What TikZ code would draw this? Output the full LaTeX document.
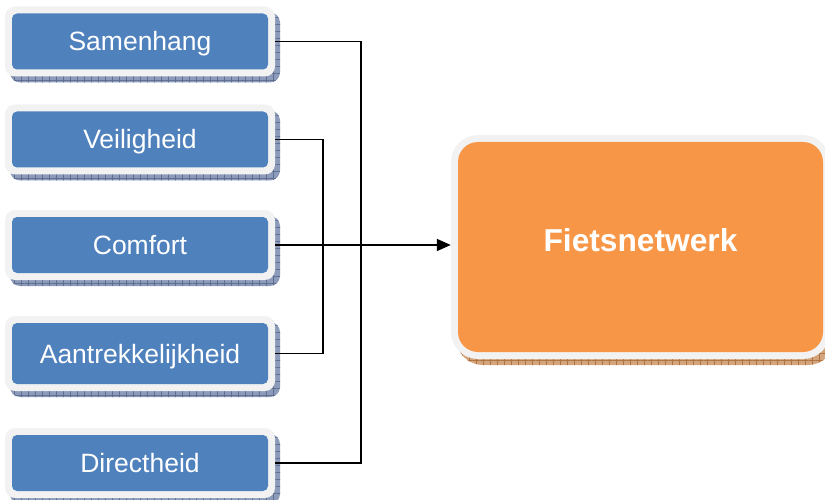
\documentclass[tikz,border=0pt]{standalone}
\usepackage{fontspec}
\setmainfont{Liberation Sans}
\usetikzlibrary{arrows.meta,shadows,patterns.meta}

\definecolor{boxblue}{HTML}{4F81BD}
\definecolor{boxorange}{HTML}{F79646}
\definecolor{framegray}{HTML}{F2F2F2}
\definecolor{shblue}{RGB}{140,155,185}
\definecolor{shbluegrid}{RGB}{95,110,145}
\definecolor{shorange}{RGB}{212,165,125}
\definecolor{shorangegrid}{RGB}{175,115,65}

\tikzset{
  % textured drop shadow below/right of each framed box
  gridshadow/.style 2 args={
    general shadow={shadow xshift=5pt, shadow yshift=-6pt, fill=#1,
      postaction={pattern={Lines[angle=0,distance=7pt,line width=.5pt]}, pattern color=#2},
      postaction={pattern={Lines[angle=90,distance=7pt,line width=.5pt]}, pattern color=#2}}
  },
  % light frame with a coloured rounded panel inside
  itembox/.style={
    fill=framegray, rounded corners=10pt, inner sep=0pt,
    minimum width=270pt, minimum height=70pt,
    text=white, font=\fontsize{26.5}{30}\selectfont,
    text height=19pt, text depth=0pt,
    gridshadow={shblue}{shbluegrid},
    path picture={\fill[boxblue, rounded corners=5pt]
      ([shift={(7pt,7pt)}]path picture bounding box.south west) rectangle
      ([shift={(-7pt,-7pt)}]path picture bounding box.north east);}
  },
  hubbox/.style={
    fill=framegray, rounded corners=27pt, inner sep=0pt,
    minimum width=379pt, minimum height=224pt,
    text=white, font=\fontsize{31.7}{36}\selectfont\bfseries,
    text height=23pt, text depth=14pt,
    gridshadow={shorange}{shorangegrid},
    path picture={\fill[boxorange, rounded corners=20pt]
      ([shift={(7pt,7pt)}]path picture bounding box.south west) rectangle
      ([shift={(-7pt,-7pt)}]path picture bounding box.north east);}
  },
  conn/.style={draw=black, line width=1.8pt}
}

\begin{document}
\begin{tikzpicture}[x=1pt, y=-1pt]
  \useasboundingbox (0,0) rectangle (825,500);
  \clip (0,0) rectangle (825,500);

  % criteria
  \node[itembox] (sam) at (140,41.5)  {Samenhang};
  \node[itembox] (vei) at (140,139.5) {Veiligheid};
  \node[itembox] (com) at (140,245)   {Comfort};
  \node[itembox, minimum height=75pt] (aan) at (140,353.5) {Aantrekkelijkheid};
  \node[itembox] (dir) at (140,463)   {Directheid};

  % target
  \node[hubbox] (hub) at (640.5,247) {Fietsnetwerk};

  % collecting lines
  \coordinate (busOuter) at (361,245);
  \coordinate (busInner) at (323,245);
  \draw[conn] (sam.east) -| (busOuter);
  \draw[conn] (dir.east) -| (busOuter);
  \draw[conn] (vei.east) -| (busInner);
  \draw[conn] (aan.east) -| (busInner);
  \draw[conn, -{Triangle[length=14pt,width=12pt]}] (com.east) -- (com.east -| hub.west);
\end{tikzpicture}
\end{document}
